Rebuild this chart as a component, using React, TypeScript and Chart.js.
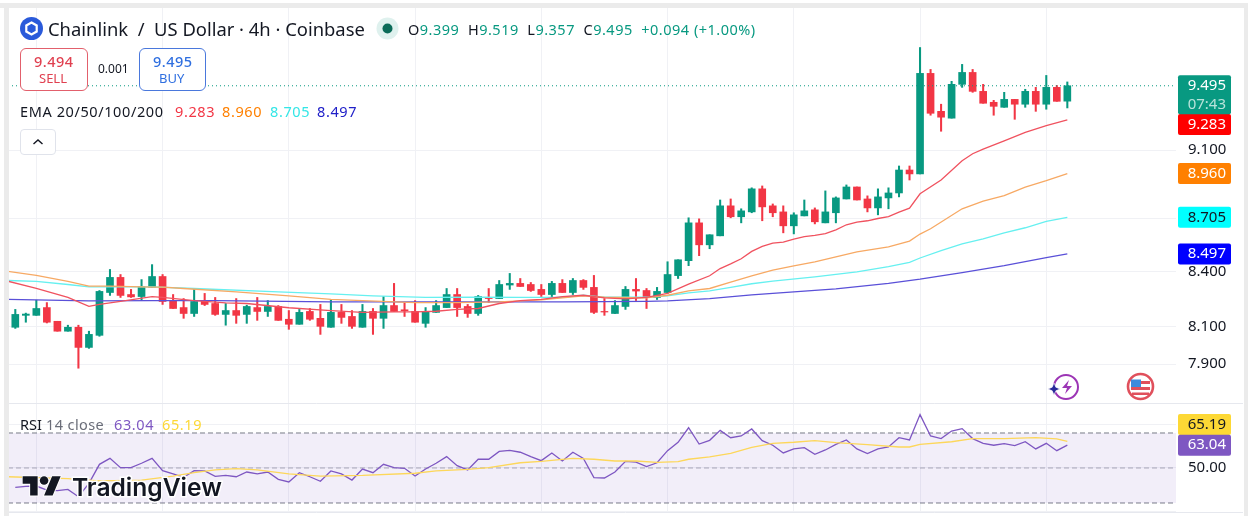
import { useEffect, useRef } from 'react';
import { Chart, registerables } from 'chart.js';

Chart.register(...registerables);

// OHLC of the 4h candles
const openPrices = [
  8.095, 8.159, 8.159, 8.201, 8.127, 8.074, 8.095, 7.988, 8.052, 8.283,
  8.366, 8.272, 8.261, 8.311, 8.371, 8.239, 8.201, 8.169, 8.239, 8.223,
  8.164, 8.185, 8.164, 8.201, 8.18, 8.207, 8.138, 8.111, 8.18, 8.143,
  8.095, 8.175, 8.153, 8.095, 8.18, 8.143, 8.212, 8.189, 8.18, 8.116,
  8.175, 8.201, 8.272, 8.207, 8.169, 8.256, 8.25, 8.324, 8.333, 8.327,
  8.3, 8.272, 8.333, 8.283, 8.349, 8.311, 8.18, 8.169, 8.207, 8.3,
  8.294, 8.256, 8.283, 8.376, 8.459, 8.673, 8.548, 8.599, 8.771, 8.708,
  8.736, 8.87, 8.771, 8.736, 8.656, 8.713, 8.748, 8.673, 8.731, 8.811,
  8.881, 8.811, 8.759, 8.817, 8.846, 8.981, 8.958, 9.573, 9.336, 9.294,
  9.504, 9.579, 9.46, 9.392, 9.361, 9.41, 9.38, 9.46, 9.38, 9.485, 9.399,
];
const highPrices = [
  8.191, 8.171, 8.241, 8.228, 8.127, 8.106, 8.106, 8.074, 8.294, 8.41,
  8.382, 8.3, 8.354, 8.437, 8.382, 8.272, 8.25, 8.305, 8.278, 8.256,
  8.223, 8.25, 8.214, 8.256, 8.239, 8.212, 8.185, 8.191, 8.196, 8.218,
  8.245, 8.218, 8.185, 8.218, 8.196, 8.261, 8.333, 8.228, 8.239, 8.201,
  8.239, 8.305, 8.305, 8.218, 8.267, 8.305, 8.349, 8.388, 8.36, 8.338,
  8.327, 8.344, 8.354, 8.36, 8.354, 8.377, 8.25, 8.239, 8.316, 8.36,
  8.305, 8.311, 8.453, 8.464, 8.702, 8.696, 8.605, 8.805, 8.811, 8.754,
  8.876, 8.887, 8.782, 8.771, 8.731, 8.805, 8.759, 8.858, 8.823, 8.893,
  8.881, 8.829, 8.87, 8.876, 9.005, 9.005, 9.738, 9.598, 9.38, 9.523,
  9.63, 9.598, 9.504, 9.404, 9.454, 9.41, 9.473, 9.485, 9.56, 9.497, 9.519,
];
const lowPrices = [
  8.089, 8.122, 8.159, 8.118, 8.074, 8.074, 7.879, 7.983, 8.047, 8.267,
  8.256, 8.256, 8.239, 8.311, 8.218, 8.196, 8.143, 8.153, 8.212, 8.159,
  8.106, 8.116, 8.116, 8.132, 8.153, 8.132, 8.084, 8.111, 8.132, 8.057,
  8.095, 8.116, 8.089, 8.095, 8.057, 8.089, 8.18, 8.153, 8.122, 8.095,
  8.175, 8.201, 8.153, 8.148, 8.159, 8.228, 8.25, 8.3, 8.316, 8.289,
  8.261, 8.256, 8.283, 8.272, 8.3, 8.169, 8.159, 8.169, 8.191, 8.239,
  8.196, 8.245, 8.278, 8.36, 8.431, 8.487, 8.526, 8.599, 8.702, 8.673,
  8.731, 8.685, 8.708, 8.616, 8.61, 8.713, 8.667, 8.673, 8.673, 8.811,
  8.805, 8.736, 8.719, 8.754, 8.823, 8.922, 8.958, 9.312, 9.214, 9.294,
  9.485, 9.454, 9.386, 9.312, 9.361, 9.287, 9.361, 9.336, 9.349, 9.398, 9.357,
];
const closePrices = [
  8.164, 8.166, 8.196, 8.122, 8.074, 8.095, 7.988, 8.057, 8.289, 8.366,
  8.267, 8.259, 8.316, 8.371, 8.234, 8.196, 8.169, 8.234, 8.218, 8.164,
  8.185, 8.159, 8.207, 8.18, 8.207, 8.132, 8.111, 8.175, 8.138, 8.1,
  8.175, 8.148, 8.1, 8.18, 8.143, 8.212, 8.18, 8.184, 8.122, 8.18,
  8.212, 8.272, 8.201, 8.169, 8.261, 8.25, 8.327, 8.333, 8.316, 8.294,
  8.272, 8.333, 8.283, 8.349, 8.311, 8.175, 8.177, 8.212, 8.3, 8.291,
  8.256, 8.289, 8.382, 8.464, 8.673, 8.548, 8.605, 8.771, 8.708, 8.742,
  8.87, 8.765, 8.731, 8.656, 8.719, 8.742, 8.679, 8.736, 8.817, 8.881,
  8.805, 8.759, 8.823, 8.846, 8.981, 8.958, 9.573, 9.324, 9.3, 9.504,
  9.579, 9.46, 9.386, 9.367, 9.41, 9.38, 9.46, 9.38, 9.485, 9.398, 9.495,
];

// EMA lines: candle index and value at the bends that can be read
const ema20Idx = [-0.7, 2, 5, 7, 8, 10, 13, 14, 17, 20, 22, 26, 30, 33, 36, 38, 40, 42, 44, 46, 48, 50, 52, 54, 56, 58, 60, 62, 64, 66, 67, 68, 69, 70, 71, 72, 73, 74, 75, 76, 77, 78, 79, 80, 81, 82, 83, 84, 85, 86, 88, 90, 91, 92, 94, 96, 98, 100];
const ema20Vals = [8.345, 8.305, 8.256, 8.208, 8.218, 8.235, 8.261, 8.256, 8.239, 8.227, 8.223, 8.2, 8.185, 8.175, 8.178, 8.178, 8.181, 8.191, 8.196, 8.223, 8.239, 8.246, 8.261, 8.268, 8.254, 8.248, 8.256, 8.278, 8.329, 8.375, 8.415, 8.441, 8.47, 8.511, 8.539, 8.558, 8.563, 8.58, 8.595, 8.601, 8.612, 8.633, 8.662, 8.677, 8.685, 8.698, 8.709, 8.735, 8.758, 8.841, 8.922, 9.036, 9.078, 9.106, 9.156, 9.207, 9.249, 9.283];
const ema50Idx = [-0.7, 2, 5, 7, 9, 13, 14, 16, 21, 26, 30, 33, 38, 42, 46, 50, 54, 56, 60, 62, 64, 66, 68, 70, 72, 74, 76, 78, 80, 83, 85, 86, 87, 90, 92, 94, 96, 98, 100];
const ema50Vals = [8.399, 8.377, 8.344, 8.318, 8.318, 8.312, 8.312, 8.305, 8.287, 8.265, 8.245, 8.239, 8.228, 8.228, 8.232, 8.243, 8.265, 8.257, 8.254, 8.268, 8.292, 8.305, 8.34, 8.375, 8.406, 8.43, 8.452, 8.48, 8.508, 8.536, 8.569, 8.609, 8.639, 8.754, 8.798, 8.831, 8.88, 8.918, 8.96];
const ema100Idx = [-0.7, 2, 5, 7, 13, 17, 25, 30, 34, 39, 44, 48, 52, 54, 56, 60, 62, 64, 66, 68, 70, 72, 76, 80, 83, 85, 86, 88, 90, 92, 94, 96, 98, 100];
const ema100Vals = [8.349, 8.344, 8.327, 8.314, 8.314, 8.305, 8.287, 8.276, 8.265, 8.256, 8.257, 8.256, 8.257, 8.268, 8.257, 8.257, 8.265, 8.281, 8.292, 8.311, 8.331, 8.345, 8.369, 8.397, 8.426, 8.45, 8.474, 8.515, 8.554, 8.582, 8.616, 8.645, 8.681, 8.705];
const ema200Idx = [-0.7, 7, 13, 19, 30, 36, 43, 52, 60, 62, 66, 70, 74, 78, 83, 86, 90, 94, 98, 100];
const ema200Vals = [8.246, 8.237, 8.239, 8.239, 8.232, 8.232, 8.232, 8.232, 8.235, 8.237, 8.25, 8.27, 8.287, 8.303, 8.333, 8.356, 8.393, 8.431, 8.476, 8.497];

// RSI pane
const rsiValues = [
  38.95, 39.52, 39.7, 37.4, 37.05, 37.8, 33.6, 41.2, 52.1, 55.5,
  50.2, 50.2, 52.7, 55.5, 48.5, 46.6, 44.7, 48.5, 48.3, 45.2,
  45.8, 45.0, 47.7, 46.6, 47.7, 43.5, 42.0, 47.3, 45.0, 42.4,
  48.3, 46.6, 43.1, 49.4, 47.3, 52.1, 50.2, 49.8, 45.4, 49.4,
  52.7, 56.5, 51.3, 48.9, 55.0, 55.0, 59.5, 60.1, 59.0, 56.5,
  54.2, 58.6, 54.0, 59.0, 55.5, 44.5, 44.3, 47.7, 53.8, 53.4,
  50.8, 53.0, 59.9, 64.7, 73.0, 63.7, 65.8, 71.5, 67.3, 68.3,
  72.3, 65.6, 63.0, 58.6, 60.9, 61.6, 57.8, 60.3, 63.5, 66.0,
  60.9, 58.2, 60.9, 62.0, 67.3, 66.0, 80.5, 68.3, 66.8, 71.1,
  72.5, 66.8, 64.1, 63.0, 63.9, 62.8, 65.0, 60.9, 64.1, 59.9, 63.04,
];
const rsiMaIdx = [-0.7, 5, 8, 12, 15, 17, 19, 21, 23, 26, 29, 33, 38, 40, 43, 45, 48, 50, 53, 55, 57, 59, 61, 63, 64, 66, 68, 70, 72, 74, 76, 78, 81, 84, 85, 86, 89, 91, 94, 97, 99, 100];
const rsiMaVals = [45.0, 43.9, 42.6, 43.1, 45.4, 47.3, 48.9, 49.6, 48.9, 46.6, 45.4, 45.8, 47.0, 48.3, 49.2, 50.2, 53.0, 53.8, 55.5, 55.0, 54.0, 54.0, 53.2, 53.6, 55.0, 56.3, 58.4, 61.8, 64.1, 64.7, 65.6, 64.5, 63.3, 62.0, 62.0, 63.5, 65.0, 66.8, 66.8, 67.3, 66.6, 65.19];

const priceTicks = [7.9, 8.1, 8.4, 8.7, 9.1];
const priceLabels = [7.9, 8.1, 8.4, 9.1];
const rsiTicks = [25, 50, 75];
const rsiBands = [70, 50, 30];
const timeGrid = [2, 14, 26, 38, 50, 62, 74, 86, 98];
const countdown = '07:43';

const GREEN = '#089981';
const RED = '#f23645';
const FONT = '"Noto Sans", sans-serif';

const X_MIN = -0.694;
const X_MAX = 110.33;
const PRICE_MIN = 7.7103;
const PRICE_MAX = 9.9955;

const points = (idx: number[], vals: number[]) => idx.map((x, i) => ({ x, y: vals[i] }));
const flat = (v: number) => [{ x: X_MIN, y: v }, { x: X_MAX, y: v }];

const candleColors = closePrices.map((c, i) => (c >= openPrices[i] ? GREEN : RED));
const lastClose = closePrices[closePrices.length - 1];
const lastRsi = rsiValues[rsiValues.length - 1];
const lastRsiMa = rsiMaVals[rsiMaVals.length - 1];

function emaLine(label: string, idx: number[], vals: number[], color: string, order: number) {
  return {
    type: 'line' as const,
    label,
    data: points(idx, vals),
    borderColor: color,
    borderWidth: 1.3,
    pointRadius: 0,
    tension: 0,
    yAxisID: 'y',
    order,
  };
}

// the stacked right axes must not pull the plot in for their labels
function fitRightAxis(axis: any) {
  axis.width = 67;
  axis.paddingTop = 0;
  axis.paddingBottom = 0;
}

function drawTag(ctx: CanvasRenderingContext2D, top: number, h: number, bg: string, fg: string, text: string, sub?: string) {
  ctx.fillStyle = bg;
  ctx.beginPath();
  ctx.roundRect(1178, top, 53, h, 2);
  ctx.fill();
  ctx.fillStyle = fg;
  ctx.textAlign = 'right';
  ctx.textBaseline = 'middle';
  ctx.font = '15px ' + FONT;
  ctx.fillText(text, 1226, top + 10.5);
  if (sub) {
    ctx.fillStyle = '#b8e3da';
    ctx.fillText(sub, 1226, top + 29);
  }
}

// pane separators and the coloured price tags on the right
const paneDecor = {
  id: 'paneDecor',
  afterDraw(chart: Chart) {
    const { ctx, scales } = chart;
    const y = scales.y;
    const rsi = scales.yRsi;
    ctx.save();
    ctx.strokeStyle = '#e6e8ee';
    ctx.lineWidth = 1;
    [rsi.top, rsi.bottom].forEach((py) => {
      ctx.beginPath();
      ctx.moveTo(8, Math.round(py) + 0.5);
      ctx.lineTo(1243, Math.round(py) + 0.5);
      ctx.stroke();
    });
    drawTag(ctx, y.getPixelForValue(ema20Vals[ema20Vals.length - 1]) - 6, 21, '#ff0000', '#ffffff', '9.283');
    drawTag(ctx, y.getPixelForValue(lastClose) - 10.5, 39, GREEN, '#ffffff', lastClose.toFixed(3), countdown);
    drawTag(ctx, y.getPixelForValue(ema50Vals[ema50Vals.length - 1]) - 10.5, 21, '#ff8000', '#ffffff', '8.960');
    drawTag(ctx, y.getPixelForValue(ema100Vals[ema100Vals.length - 1]) - 10.5, 21, '#00ffff', '#131722', '8.705');
    drawTag(ctx, y.getPixelForValue(ema200Vals[ema200Vals.length - 1]) - 10.5, 21, '#0000ff', '#ffffff', '8.497');
    drawTag(ctx, rsi.getPixelForValue(lastRsiMa) - 27.5, 21, '#fdd835', '#131722', lastRsiMa.toFixed(2));
    drawTag(ctx, rsi.getPixelForValue(lastRsi) - 10.5, 21, '#7e57c2', '#ffffff', lastRsi.toFixed(2));
    ctx.restore();
  },
};

function Label({ x, y, size = 14, color = '#131722', weight = 400, spacing = 0, children }: any) {
  return (
    <span
      style={{
        position: 'absolute',
        left: x,
        top: y,
        transform: 'translateY(-50%)',
        fontFamily: FONT,
        fontSize: size,
        fontWeight: weight,
        letterSpacing: spacing,
        color,
        lineHeight: 1,
        whiteSpace: 'pre',
      }}
    >
      {children}
    </span>
  );
}

function Box({ x, y, w, h, border, radius = 6 }: any) {
  return (
    <div
      style={{
        position: 'absolute',
        left: x,
        top: y,
        width: w,
        height: h,
        boxSizing: 'border-box',
        border: '1px solid ' + border,
        borderRadius: radius,
        background: '#ffffff',
      }}
    />
  );
}

export default function App() {
  const chartRef = useRef<HTMLCanvasElement>(null);

  useEffect(() => {
    document.body.style.margin = '0';
    if (!chartRef.current) return;
    const chart = new Chart(chartRef.current, {
      type: 'bar',
      data: {
        datasets: [
          emaLine('EMA 20', ema20Idx, ema20Vals, '#f0525f', 1),
          emaLine('EMA 50', ema50Idx, ema50Vals, '#f7a964', 2),
          emaLine('EMA 100', ema100Idx, ema100Vals, '#66f0f0', 3),
          emaLine('EMA 200', ema200Idx, ema200Vals, '#5a50d8', 4),
          {
            type: 'line',
            label: 'Last',
            data: flat(lastClose),
            borderColor: GREEN,
            borderWidth: 1,
            borderDash: [1, 3],
            pointRadius: 0,
            yAxisID: 'y',
            order: 5,
          },
          {
            label: 'Body',
            data: closePrices.map((c, i) => ({ x: i, y: [openPrices[i], c] })),
            backgroundColor: candleColors,
            borderWidth: 0,
            grouped: false,
            barPercentage: 1,
            categoryPercentage: 1,
            maxBarThickness: 7,
            yAxisID: 'y',
            order: 6,
          },
          {
            label: 'Wick',
            data: highPrices.map((h, i) => ({ x: i, y: [lowPrices[i], h] })),
            backgroundColor: candleColors,
            borderWidth: 0,
            grouped: false,
            barPercentage: 1,
            categoryPercentage: 1,
            maxBarThickness: 1.4,
            yAxisID: 'y',
            order: 7,
          },
          {
            type: 'line',
            label: 'RSI',
            data: rsiValues.map((v, i) => ({ x: i, y: v })),
            borderColor: '#7e57c2',
            borderWidth: 1.3,
            pointRadius: 0,
            yAxisID: 'yRsi',
            order: 2,
          },
          {
            type: 'line',
            label: 'RSI MA',
            data: points(rsiMaIdx, rsiMaVals),
            borderColor: '#fdd75a',
            borderWidth: 1.3,
            pointRadius: 0,
            yAxisID: 'yRsi',
            order: 1,
          },
          {
            type: 'line',
            label: 'Upper',
            data: flat(rsiBands[0]),
            borderColor: '#787b86',
            borderWidth: 1,
            borderDash: [5, 3],
            pointRadius: 0,
            fill: '+1',
            backgroundColor: 'rgba(126, 87, 194, 0.1)',
            yAxisID: 'yRsi',
            order: 8,
          },
          {
            type: 'line',
            label: 'Lower',
            data: flat(rsiBands[2]),
            borderColor: '#787b86',
            borderWidth: 1,
            borderDash: [5, 3],
            pointRadius: 0,
            yAxisID: 'yRsi',
            order: 8,
          },
          {
            type: 'line',
            label: 'Middle',
            data: flat(rsiBands[1]),
            borderColor: 'rgba(120, 123, 134, 0.6)',
            borderWidth: 1,
            borderDash: [5, 3],
            pointRadius: 0,
            yAxisID: 'yRsi',
            order: 8,
          },
        ],
      } as any,
      options: {
        responsive: false,
        animation: false,
        events: [],
        layout: { padding: { left: 8, top: 8, right: 5, bottom: 4 } },
        plugins: { legend: { display: false }, tooltip: { enabled: false } },
        scales: {
          x: {
            type: 'linear',
            position: 'bottom',
            min: X_MIN,
            max: X_MAX,
            offset: false,
            afterBuildTicks: (axis: any) => {
              axis.ticks = timeGrid.map((value) => ({ value }));
            },
            afterFit: (axis: any) => {
              axis.height = 0;
            },
            grid: { color: '#f0f1f5', offset: false, drawTicks: false },
            border: { display: false },
            ticks: { display: false },
          },
          y: {
            type: 'logarithmic',
            position: 'right',
            stack: 'panes',
            stackWeight: 395,
            min: PRICE_MIN,
            max: PRICE_MAX,
            afterBuildTicks: (axis: any) => {
              axis.ticks = priceTicks.map((value) => ({ value }));
            },
            afterFit: fitRightAxis,
            grid: { color: '#f0f1f5', drawTicks: false },
            border: { display: false },
            ticks: {
              padding: 12,
              color: '#131722',
              font: { family: FONT, size: 15 },
              callback: (v: any) => (priceLabels.includes(v) ? Number(v).toFixed(3) : ''),
            },
          },
          yRsi: {
            type: 'linear',
            position: 'right',
            stack: 'panes',
            stackWeight: 109,
            min: 24.857,
            max: 87.14,
            afterBuildTicks: (axis: any) => {
              axis.ticks = rsiTicks.map((value) => ({ value }));
            },
            afterFit: fitRightAxis,
            grid: { color: '#f0f1f5', drawTicks: false },
            border: { display: false },
            ticks: {
              padding: 12,
              color: '#131722',
              font: { family: FONT, size: 15 },
              callback: (v: any) => (v === 50 ? '50.00' : ''),
            },
          },
        },
      },
      plugins: [paneDecor],
    } as any);
    return () => chart.destroy();
  }, []);

  return (
    <div style={{ position: 'absolute', left: 0, top: 0, width: 1248, height: 516, overflow: 'hidden', background: '#ffffff' }}>
      <canvas ref={chartRef} width={1248} height={516} style={{ position: 'absolute', left: 0, top: 0 }} />
      {/* window frame */}
      <div style={{ position: 'absolute', left: 0, top: 3, width: 1248, height: 5, background: '#ebebeb' }} />
      <div style={{ position: 'absolute', left: 4, top: 3, width: 5, height: 513, background: '#ebebeb' }} />
      <div style={{ position: 'absolute', left: 1244, top: 3, width: 4, height: 513, background: '#ebebeb' }} />

      {/* header */}
      <svg style={{ position: 'absolute', left: 20, top: 17 }} width={23} height={23} viewBox="0 0 23 23">
        <circle cx="11.5" cy="11.5" r="11.5" fill="#2a5ada" />
        <path d="M11.5 5.5l5.2 3v6l-5.2 3-5.2-3v-6z" fill="none" stroke="#ffffff" strokeWidth="2.2" />
      </svg>
      <Label x={48} y={29} size={18.4}>Chainlink  /  US Dollar · 4h · Coinbase</Label>
      <svg style={{ position: 'absolute', left: 376, top: 17 }} width={23} height={23} viewBox="0 0 23 23">
        <circle cx="11.5" cy="11.5" r="11" fill="#dff1ee" />
        <circle cx="11.5" cy="11.5" r="5" fill="#0b6b58" />
      </svg>
      <Label x={408} y={29} size={14.5} spacing={0.5}>O<span style={{ color: GREEN }}>9.399</span>  H<span style={{ color: GREEN }}>9.519</span>  L<span style={{ color: GREEN }}>9.357</span>  C<span style={{ color: GREEN }}>9.495</span>  <span style={{ color: GREEN }}>+0.094 (+1.00%)</span></Label>

      {/* order buttons */}
      <Box x={20} y={48} w={68} h={43} border="#e2606c" />
      <Label x={34} y={61} size={14.5} color="#e04050" weight={500} spacing={0.5}>9.494</Label>
      <Label x={39} y={78} size={13} color="#e04050">SELL</Label>
      <Label x={98} y={69} size={12}>0.001</Label>
      <Box x={139} y={48} w={67} h={43} border="#4a78dc" />
      <Label x={153} y={61} size={14.5} color="#2f6fe0" weight={500} spacing={0.5}>9.495</Label>
      <Label x={159} y={78} size={13} color="#2f6fe0">BUY</Label>

      {/* EMA legend */}
      <Label x={20} y={111} size={14.5} spacing={0.6}>EMA 20/50/100/200</Label>
      <Label x={175} y={111} size={14.5} spacing={0.6} color="#f23645">9.283</Label>
      <Label x={222} y={111} size={14.5} spacing={0.6} color="#ff8000">8.960</Label>
      <Label x={270} y={111} size={14.5} spacing={0.6} color="#33e6e6">8.705</Label>
      <Label x={317} y={111} size={14.5} spacing={0.6} color="#2020c8">8.497</Label>
      <Box x={20} y={129} w={36} h={26} border="#e0e3eb" radius={4} />
      <svg style={{ position: 'absolute', left: 31, top: 137 }} width={14} height={10} viewBox="0 0 14 10">
        <path d="M2.5 7L7 3l4.5 4" fill="none" stroke="#131722" strokeWidth="1.4" />
      </svg>

      {/* RSI legend */}
      <Label x={20} y={424} size={14.5}>RSI</Label>
      <Label x={46} y={424} size={14.5} spacing={0.4} color="#6a6d78">14 close</Label>
      <Label x={114} y={424} size={14.5} spacing={0.6} color="#7e57c2">63.04</Label>
      <Label x={162} y={424} size={14.5} spacing={0.6} color="#fdd835">65.19</Label>

      {/* watermark */}
      <svg style={{ position: 'absolute', left: 22, top: 472 }} width={42} height={30} viewBox="0 0 38 28">
        <path
          d="M14 22H7V11H0V4h14v18zM28 22h-8l7.5-18h8L28 22z"
          fill="#131722"
          stroke="#ffffff"
          strokeWidth="1.6"
          paintOrder="stroke"
        />
        <circle cx="20" cy="8" r="4" fill="#131722" stroke="#ffffff" strokeWidth="1.6" paintOrder="stroke" />
      </svg>
      <span
        style={{
          position: 'absolute',
          left: 72,
          top: 487,
          transform: 'translateY(-50%)',
          fontFamily: 'Inter, sans-serif',
          fontWeight: 600,
          fontSize: 24.6,
          color: '#131722',
          lineHeight: 1,
          WebkitTextStroke: '3px #ffffff',
          paintOrder: 'stroke fill',
        }}
      >
        TradingView
      </span>

      {/* bottom right badges */}
      <svg style={{ position: 'absolute', left: 1046, top: 373 }} width={36} height={28} viewBox="0 0 36 28">
        <circle cx="20" cy="14" r="12" fill="none" stroke="#9c35b5" strokeWidth="2" />
        <path d="M23 7l-7 8h5l-2 6 7-8h-5z" fill="#9c35b5" />
        <path d="M8 10l1.8 4.2L14 16l-4.2 1.8L8 22l-1.8-4.2L2 16l4.2-1.8z" fill="#2a2a9a" stroke="#ffffff" strokeWidth="0.6" />
      </svg>
      <svg style={{ position: 'absolute', left: 1126, top: 372 }} width={29} height={29} viewBox="0 0 29 29">
        <circle cx="14.5" cy="14.5" r="12.5" fill="#ffffff" stroke="#e0505c" strokeWidth="2.6" />
        <path d="M5 9h19v3H5zM5 15h19v3H5zM6 20.5h17v2.5H6z" fill="#e0505c" />
        <path d="M5 7.5h10V15H5z" fill="#3d8bdc" />
      </svg>
    </div>
  );
}
